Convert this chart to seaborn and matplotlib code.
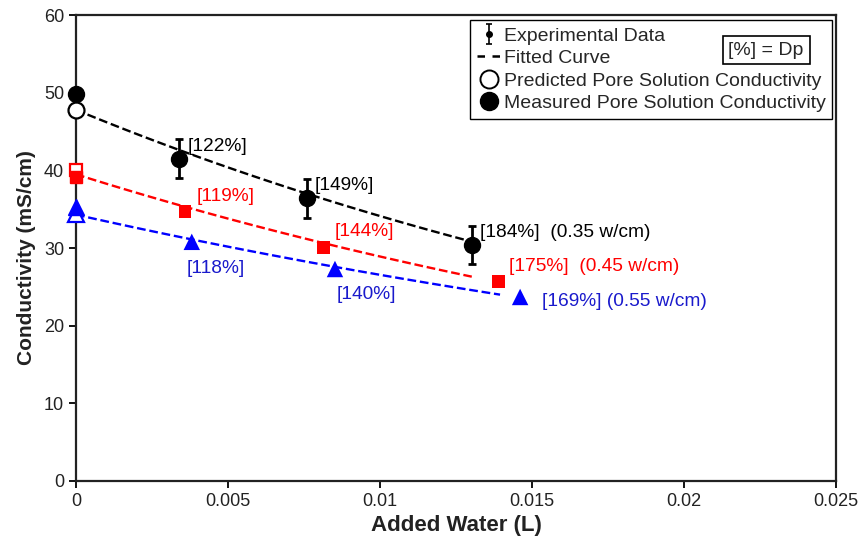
import numpy as np
import pandas as pd
import seaborn as sns
import matplotlib.pyplot as plt
from matplotlib.lines import Line2D

sns.set_style("ticks")
plt.rcParams['font.family'] = ['Liberation Sans', 'DejaVu Sans']

# measured pore solution conductivity at zero added water
measured_y0 = [49.9, 39.2, 35.3]
# predicted (fit intercept) pore solution conductivity
predicted_y0 = [47.8, 40.0, 34.4]

# experimental points per w/cm mix
x_035 = [0.0034, 0.00759, 0.01302]
y_035 = [41.5, 36.4, 30.4]
err_035 = [2.5, 2.5, 2.5]
x_045 = [0.00359, 0.00813, 0.01389]
y_045 = [34.7, 30.1, 25.65]
x_055 = [0.00381, 0.00852, 0.01461]
y_055 = [30.8, 27.3, 23.7]

# fitted curves y = a * exp(-b x)
fit_a = [47.8, 39.5, 34.3]
fit_b = [33.7, 31.2, 25.6]
fit_xend = [0.01285, 0.01302, 0.01395]

labels_035 = ["[122%]", "[149%]", "[184%]  (0.35 w/cm)"]
labels_045 = ["[119%]", "[144%]", "[175%]  (0.45 w/cm)"]
labels_055 = ["[118%]", "[140%]", "[169%] (0.55 w/cm)"]

colors = ["black", "#ff0000", "#0000ff"]
markers = ["o", "s", "^"]
msizes = [11.5, 8.5, 11.5]

fig = plt.figure(figsize=(8.63, 5.5), dpi=100)
ax = fig.add_axes([0.088, 0.1255, 0.8807, 0.847])

# fitted curves
for a, b, xe, c in zip(fit_a, fit_b, fit_xend, colors):
    xs = np.linspace(0, xe, 100)
    curve = pd.DataFrame({"x": xs, "y": a * np.exp(-b * xs)})
    sns.lineplot(data=curve, x="x", y="y", ax=ax, color=c, lw=1.7,
                 dashes=(4, 2.8), linestyle="--", zorder=2)

# predicted (open) and measured (filled) at x=0
for i in range(3):
    ax.plot(0, predicted_y0[i], marker=markers[i], ms=msizes[i], mfc="white",
            mec=colors[i], mew=1.6, clip_on=False, zorder=3, ls="none")
    ax.plot(0, measured_y0[i], marker=markers[i], ms=msizes[i], color=colors[i],
            clip_on=False, zorder=4, ls="none")

# experimental data
ax.errorbar(x_035, y_035, yerr=err_035, fmt="o", color="black", ms=11.5,
            elinewidth=2, capsize=3, capthick=2, zorder=4)
sns.scatterplot(x=x_045, y=y_045, ax=ax, marker="s", color=colors[1], s=85,
                edgecolor="none", zorder=4)
sns.scatterplot(x=x_055, y=y_055, ax=ax, marker="^", color=colors[2], s=140,
                edgecolor="none", zorder=4)

fs = 13.8
for x, y, t in zip(x_035, y_035, labels_035):
    ax.annotate(t, (x, y), xytext=(6, 9), textcoords="offset points",
                fontsize=fs, color="black", va="center")
for x, y, t in zip(x_045, y_045, labels_045):
    ax.annotate(t, (x, y), xytext=(8, 11), textcoords="offset points",
                fontsize=fs, color=colors[1], va="center")
offs_055 = [(-4, -19), (1, -18), (16, -3)]
for (x, y, t), o in zip(zip(x_055, y_055, labels_055), offs_055):
    ax.annotate(t, (x, y), xytext=o, textcoords="offset points",
                fontsize=fs, color="#1a1acc", va="center")

ax.set_xlim(0, 0.025)
ax.set_ylim(0, 60)
ax.set_xticks([0, 0.005, 0.01, 0.015, 0.02, 0.025])
ax.set_xticklabels(["0", "0.005", "0.01", "0.015", "0.02", "0.025"])
ax.set_yticks(range(0, 61, 10))
ax.tick_params(labelsize=13, width=1.3, length=5, direction="out", color="black",
               labelcolor="#222222")
for s in ax.spines.values():
    s.set_visible(True)
    s.set_linewidth(1.6)
    s.set_color("#222222")
ax.set_xlabel("Added Water (L)", fontsize=16, fontweight="bold", labelpad=4,
              color="#222222")
ax.set_ylabel("Conductivity (mS/cm)", fontsize=15, fontweight="bold",
              color="#222222")
ax.yaxis.set_label_coords(-0.052, 0.48)

eb = ax.errorbar([np.nan], [np.nan], yerr=[1], fmt="o", color="black", ms=4,
                 elinewidth=1.2, capsize=2, capthick=1.2)
handles = [
    eb,
    Line2D([], [], color="black", ls=(0, (3, 3)), lw=1.8),
    Line2D([], [], color="black", marker="o", ms=13, mfc="white", lw=0, mew=1.4),
    Line2D([], [], color="black", marker="o", ms=13, lw=0),
]
names = ["Experimental Data", "Fitted Curve",
         "Predicted Pore Solution Conductivity", "Measured Pore Solution Conductivity"]
leg = ax.legend(handles, names, loc="upper right", bbox_to_anchor=(0.995, 0.989),
                fontsize=14, frameon=True, fancybox=False, edgecolor="black",
                handlelength=1.2, handletextpad=0.15, borderpad=0.35,
                labelspacing=0.25, borderaxespad=0, framealpha=1)
leg.get_frame().set_linewidth(1.0)
leg.set_zorder(5)
ax.text(0.0227, 55.5, "[%] = Dp", fontsize=14, ha="center", va="center",
        zorder=6,
        bbox=dict(boxstyle="square,pad=0.3", fc="white", ec="black", lw=1.2))

fig.savefig("out.png", dpi=100)
